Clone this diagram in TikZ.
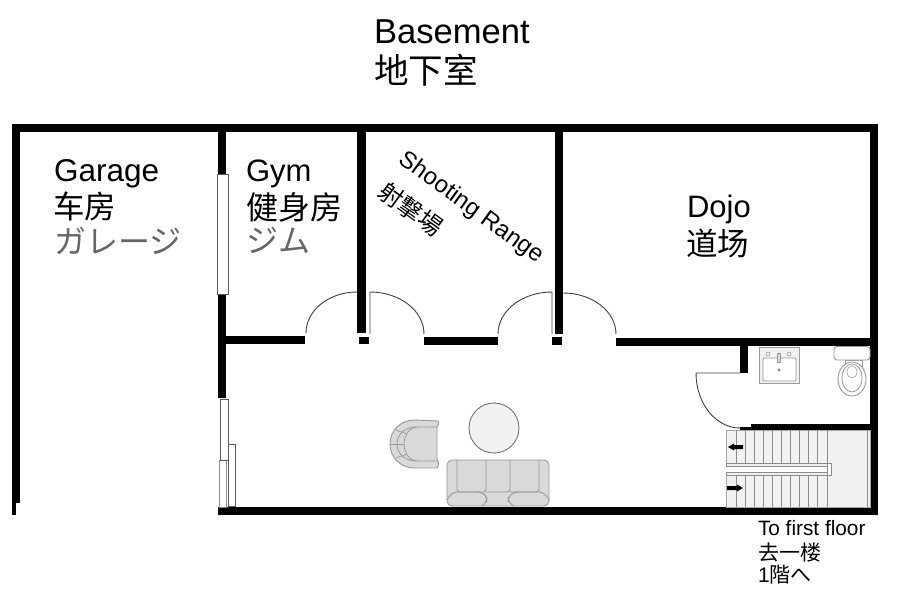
\documentclass[tikz,border=0pt]{standalone}
\usepackage{fontspec}
\setmainfont{Liberation Sans}
\newfontfamily\cjk{Noto Sans CJK SC}
\newfontfamily\jpn{Noto Sans CJK JP}
\definecolor{fur}{HTML}{D9D9D9}
\definecolor{furline}{HTML}{9A9A9A}
\definecolor{pale}{HTML}{F1F1F1}
\newcommand{\lbl}[2]{\fontsize{#1}{#1}\selectfont #2}
\tikzset{
  wall/.style={fill=black,draw=none},
  doorline/.style={draw=black!75,line width=0.9pt},
  win/.style={draw=black!65,line width=1pt,fill=white},
  fixture/.style={draw=furline,line width=0.9pt,fill=fur},
  fixpale/.style={draw=furline,line width=0.9pt,fill=pale},
  tread/.style={draw=black!45,line width=0.7pt},
  label/.style={align=left,anchor=north west,inner sep=0pt,outer sep=0pt,text=black},
}
\begin{document}
\begin{tikzpicture}[x=1pt,y=-1pt]
\useasboundingbox (0,0) rectangle (904,600);
\fill[white] (0,0) rectangle (904,600);
% outer walls
\fill[wall] (12,124) rectangle (878,132);
\fill[wall] (12,124) rectangle (20,503);
\fill[wall] (12,503) rectangle (16,515);
\fill[wall] (870,124) rectangle (878,515);
\fill[wall] (218,507) rectangle (878,515);
% partitions
\fill[wall] (218,132) rectangle (226,398);
\fill[wall] (357,132) rectangle (366,333);
\fill[wall] (555,132) rectangle (563,334);
\fill[wall] (226,336) rectangle (305,344);
\fill[wall] (359,337) rectangle (369,344);
\fill[wall] (424,337) rectangle (498,345);
\fill[wall] (552,337) rectangle (562,345);
\fill[wall] (616,338) rectangle (870,346);
\fill[wall] (740,346) rectangle (748,373);
\fill[wall] (751,424) rectangle (870,430);
\fill[wall] (740,427) rectangle (751,430);
% doors
\draw[doorline] (306,333) arc[start angle=180,end angle=270,x radius=51,y radius=41];
\draw[doorline] (370,334) -- (370,292) arc[start angle=270,end angle=360,x radius=54,y radius=42];
\draw[doorline] (498,334) arc[start angle=180,end angle=270,x radius=54,y radius=42] -- (552,334);
\draw[doorline] (563,293) arc[start angle=270,end angle=360,x radius=53,y radius=41];
\draw[doorline] (740,373) -- (696,373) arc[start angle=180,end angle=90,x radius=44,y radius=55];
% windows
\draw[win] (217,174) rectangle (228.5,294);
\draw[win,draw=black!45] (219,460) rectangle (226,507);
\draw[win] (220.5,399) rectangle (228.5,460);
\draw[win] (228.5,444) rectangle (235.5,506);
% stairs
\fill[pale] (726,430) rectangle (870,507);
\draw[tread,draw=black!35] (726,430) rectangle (870,507);
\draw[tread] (867,430) -- (867,507);
\foreach \tx in {736,745,754,763,772,781,790,799,808,817,827}
  \draw[tread] (\tx,430) -- (\tx,507);
\fill[white] (726,466.4) rectangle (828,471.6);
\draw[tread,fill=pale] (726,463) rectangle (827,466);
\draw[tread,fill=pale] (726,472) rectangle (827,475);
\draw[tread,fill=white] (827,463) rectangle (831,475);
\fill[black] (743,445) -- (734,445) -- (734,443.5) -- (728,447) -- (734,450.5) -- (734,449) -- (743,449) -- cycle;
\fill[black] (727,486) -- (737,486) -- (737,484.5) -- (743,488) -- (737,491.5) -- (737,490) -- (727,490) -- cycle;
% sink
\draw[fixture,fill=pale] (759,347) rectangle (799,383);
\draw[furline,fill=white,line width=0.8pt,rounded corners=1pt] (763,358) rectangle (796,381);
\draw[furline,fill=fur,line width=0.6pt] (777.5,353) rectangle (780.5,362);
\draw[furline,line width=0.6pt] (768,354) circle[radius=2];
\draw[furline,line width=0.6pt] (789,354) circle[radius=2];
\draw[black!60,line width=0.5pt] (779,370) circle[radius=1.3];
% toilet
\draw[furline,fill=white,line width=0.8pt] (845,360) rectangle (862,368);
\draw[fixture,fill=white,rounded corners=3pt] (834,346.5) rectangle (870,360);
\draw[fixture,fill=white] (852,379) ellipse[x radius=14,y radius=17];
\draw[furline,line width=0.8pt] (852,378) ellipse[x radius=10,y radius=14];
\draw[furline,line width=0.6pt] (852,372) ellipse[x radius=5,y radius=6];
% chair
\draw[fixture] (438,421) .. controls (439,423) and (439,426) .. (437,427) -- (437,460) .. controls (439,461) and (439,466) .. (437,468) -- (415,468) .. controls (400,468) and (390,457) .. (390,444) .. controls (390,431) and (400,420) .. (415,420) -- cycle;
\draw[furline,line width=0.8pt] (437,427) -- (417,427) .. controls (410,427) and (404,435) .. (404,444) .. controls (404,453) and (410,461) .. (417,461) -- (437,461);
\draw[furline,line width=0.8pt] (417,427) .. controls (404,427) and (397,435) .. (397,444) .. controls (397,453) and (404,461) .. (417,461);
\draw[furline,line width=0.7pt] (390,444) -- (404,444);
\draw[furline,line width=0.7pt] (396,430) -- (407,434);
\draw[furline,line width=0.7pt] (396,458) -- (407,454);
% table
\draw[fixpale,draw=black!55] (494,428) circle[radius=25];
% sofa
\draw[fixture,rounded corners=5pt] (447,506) -- (447,460) -- (549,460) -- (549,506) -- cycle;
\draw[furline,line width=0.9pt,rounded corners=3pt] (457,460) -- (457,492) -- (486,492) -- (486,460);
\draw[furline,line width=0.9pt,rounded corners=3pt] (486,492) -- (510,492) -- (510,460);
\draw[furline,line width=0.9pt,rounded corners=3pt] (510,492) -- (539,492) -- (539,460);
\draw[furline,line width=0.9pt,rounded corners=5pt] (447,500) -- (452,492) -- (482,492) -- (487,497) -- (487,502) -- (482,506);
\draw[furline,line width=0.9pt,rounded corners=5pt] (549,500) -- (544,492) -- (514,492) -- (508,497) -- (508,502) -- (514,506);
% labels
\node[label] (basement) at (374,20) {\lbl{34.6}{Basement}};
\node[label] (basementc) at (374,54) {\cjk\lbl{34.6}{地下室}};
\node[label] (garage) at (54,160) {\lbl{31.5}{Garage}};
\node[label] (garagec) at (53,192) {\cjk\lbl{31.5}{车房}};
\node[label,text=black!60] (garagej) at (54,227) {\jpn\lbl{32}{ガレージ}};
\node[label] (gym) at (246,160) {\lbl{31}{Gym}};
\node[label] (gymc) at (246,193) {\cjk\lbl{32}{健身房}};
\node[label,text=black!60] (gymj) at (246,227) {\jpn\lbl{32}{ジム}};
\node[label] (dojo) at (687,195) {\lbl{31}{Dojo}};
\node[label] (dojoc) at (686,229) {\cjk\lbl{31.5}{道场}};
\node[inner sep=0pt,rotate=-36] (range) at (471,208) {\lbl{24}{Shooting Range}};
\node[inner sep=0pt,rotate=-36] (rangec) at (411,209) {\cjk\lbl{24}{射撃場}};
\node[label] (first) at (758,520) {\lbl{20.8}{To first floor}};
\node[label] (firstc) at (758,543) {\cjk\lbl{21}{去一楼}};
\node[label] (firstj) at (758,565) {\lbl{21}{1}\jpn\lbl{21}{階へ}};
\end{tikzpicture}
\end{document}
